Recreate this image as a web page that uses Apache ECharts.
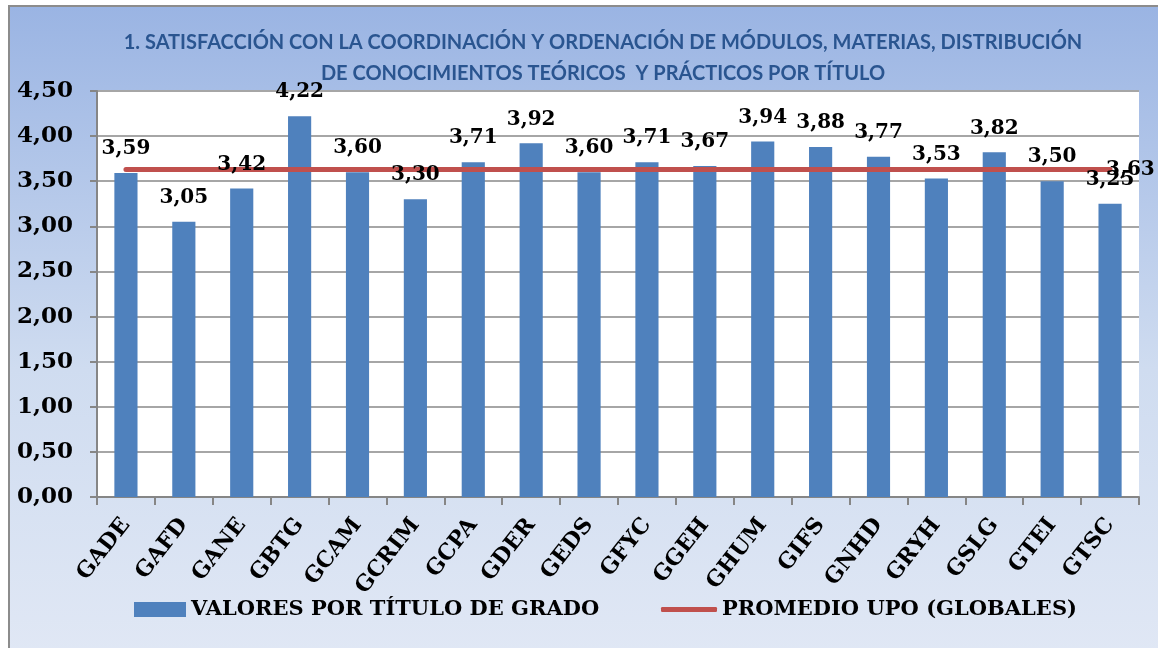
<!DOCTYPE html>
<html>
<head>
<meta charset="utf-8">
<script src="https://cdn.jsdelivr.net/npm/echarts@6/dist/echarts.min.js"></script>
<style>
  html, body { margin: 0; padding: 0; background: #fff; }
  #chart { width: 1158px; height: 648px; }
</style>
</head>
<body>
<div id="chart"></div>
<script>
// datos del gráfico
var categories = ["GADE", "GAFD", "GANE", "GBTG", "GCAM", "GCRIM", "GCPA", "GDER", "GEDS",
  "GFYC", "GGEH", "GHUM", "GIFS", "GNHD", "GRYH", "GSLG", "GTEI", "GTSC"];
var valoresTitulo = [3.59, 3.05, 3.42, 4.22, 3.60, 3.30, 3.71, 3.92, 3.60,
  3.71, 3.67, 3.94, 3.88, 3.77, 3.53, 3.82, 3.50, 3.25];
var promedioUPO = [3.63, 3.63, 3.63, 3.63, 3.63, 3.63, 3.63, 3.63, 3.63,
  3.63, 3.63, 3.63, 3.63, 3.63, 3.63, 3.63, 3.63, 3.63];
var yTicks = [0, 0.5, 1, 1.5, 2, 2.5, 3, 3.5, 4, 4.5];
var titulo = "1. SATISFACCIÓN CON LA COORDINACIÓN Y ORDENACIÓN DE MÓDULOS, MATERIAS, DISTRIBUCIÓN\nDE CONOCIMIENTOS TEÓRICOS  Y PRÁCTICOS POR TÍTULO";
var nombreBarras = "VALORES POR TÍTULO DE GRADO";
var nombreLinea = "PROMEDIO UPO (GLOBALES)";

var serif = "DejaVu Serif";
function coma(v) { return v.toFixed(2).replace(".", ","); }

var chart = echarts.init(document.getElementById("chart"));
chart.setOption({
  backgroundColor: "#fff",
  animation: false,
  graphic: [{
    type: "rect",
    z: -10,
    shape: { x: 9, y: 6, width: 1160, height: 660 },
    style: {
      fill: new echarts.graphic.LinearGradient(0, 0, 0, 1, [
        { offset: 0, color: "#9ab4e3" },
        { offset: 0.55, color: "#cfdcf0" },
        { offset: 1, color: "#e1e8f5" }
      ]),
      stroke: "#8c8c8c",
      lineWidth: 2
    }
  }],
  title: {
    text: titulo,
    left: 598,
    textAlign: "center",
    top: 22,
    textStyle: {
      fontFamily: "Lato",
      fontWeight: "bold",
      fontSize: 20,
      lineHeight: 31,
      color: "#2a5590"
    }
  },
  legend: [
    {
      left: 129,
      top: 594,
      itemWidth: 52,
      itemHeight: 15,
      textStyle: { fontFamily: serif, fontWeight: "bold", fontSize: 21, color: "#000" },
      data: [{ name: nombreBarras, icon: "rect" }]
    },
    {
      left: 656,
      top: 594,
      itemWidth: 56,
      itemHeight: 5,
      textStyle: { fontFamily: serif, fontWeight: "bold", fontSize: 21, color: "#000" },
      data: [{ name: nombreLinea, icon: "roundRect" }]
    }
  ],
  grid: { left: 97, right: 19, top: 91, bottom: 151, show: true, backgroundColor: "#fff", borderWidth: 0 },
  xAxis: {
    type: "category",
    data: categories,
    axisLine: { lineStyle: { color: "#868686", width: 2 } },
    axisTick: { show: true, length: 8, lineStyle: { color: "#868686", width: 2 } },
    axisLabel: {
      rotate: 52,
      margin: 24,
      interval: 0,
      hideOverlap: false,
      fontFamily: serif, fontWeight: "bold", fontSize: 22, color: "#000"
    }
  },
  yAxis: {
    type: "value",
    min: yTicks[0],
    max: yTicks[yTicks.length - 1],
    interval: 0.5,
    axisLine: { show: true, lineStyle: { color: "#868686", width: 2 } },
    axisTick: { show: true, length: 7, lineStyle: { color: "#868686", width: 2 } },
    splitLine: { lineStyle: { color: "#a6a6a6", width: 2 } },
    axisLabel: {
      margin: 24,
      fontFamily: serif, fontWeight: "bold", fontSize: 23, color: "#000",
      formatter: function (v) { return coma(v); }
    }
  },
  series: [
    {
      name: nombreBarras,
      type: "bar",
      data: valoresTitulo,
      barWidth: "40%",
      itemStyle: { color: "#4f81bd" },
      z: 2
    },
    {
      name: nombreLinea,
      type: "line",
      data: promedioUPO,
      symbol: "none",
      itemStyle: { color: "#c0504d" },
      lineStyle: { color: "#c0504d", width: 5, cap: "round" },
      endLabel: {
        show: true,
        distance: -4,
        fontFamily: serif, fontWeight: "bold", fontSize: 20, color: "#000",
        formatter: function (p) { return coma(p.value); }
      },
      z: 3
    },
    {
      // etiquetas de las barras, por encima de la línea
      name: "etiquetas",
      type: "bar",
      data: valoresTitulo,
      barWidth: "40%",
      barGap: "-100%",
      itemStyle: { color: "rgba(0,0,0,0)" },
      silent: true,
      label: {
        show: true,
        position: "top",
        distance: 14,
        fontFamily: serif, fontWeight: "bold", fontSize: 20, color: "#000",
        formatter: function (p) { return coma(p.value); }
      },
      z: 5
    }
  ]
});
</script>
</body>
</html>
